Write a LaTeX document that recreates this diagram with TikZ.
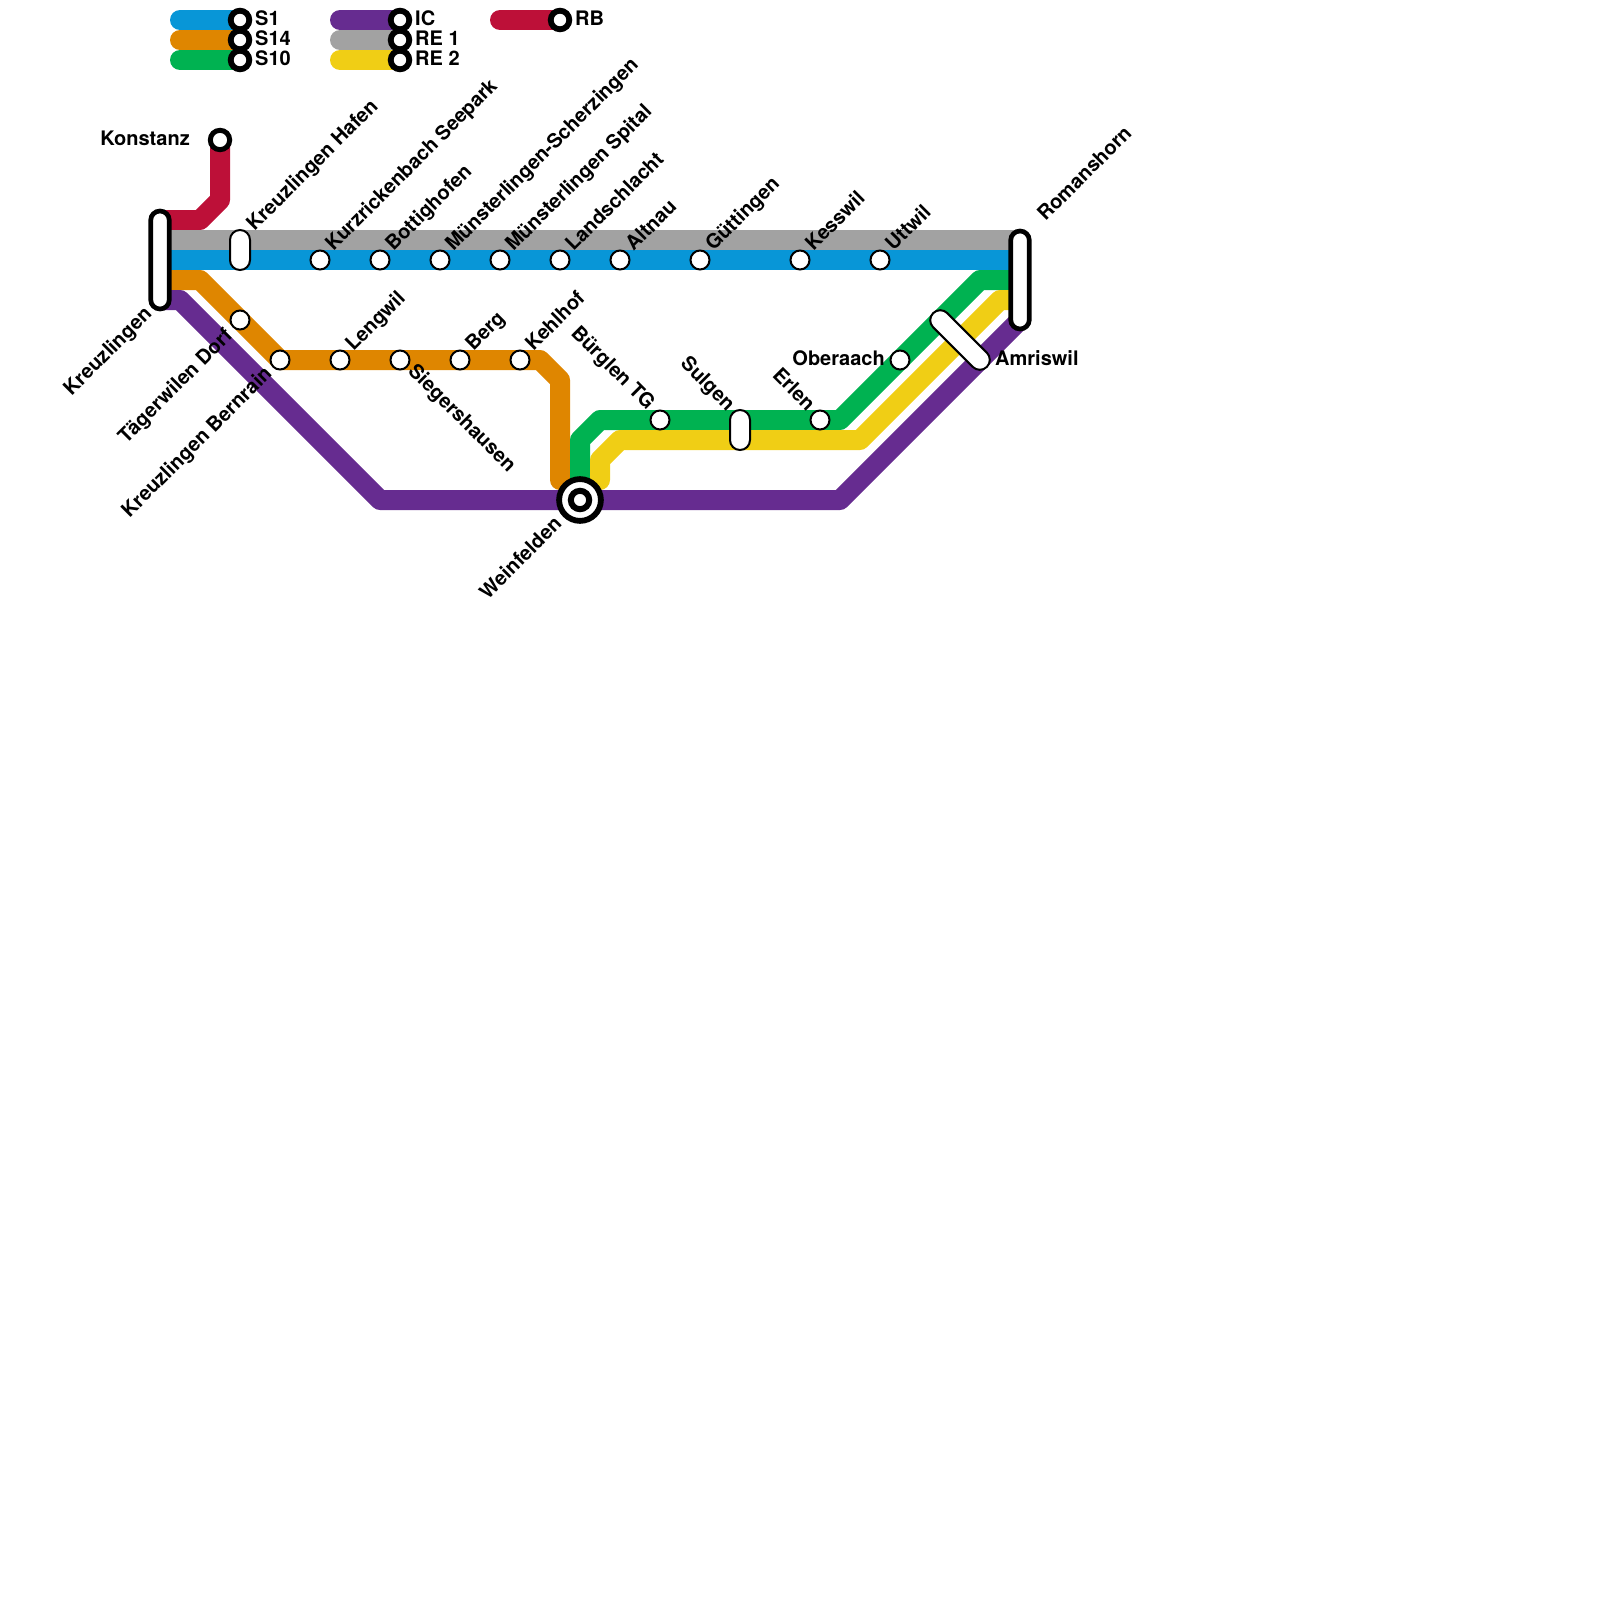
\documentclass[tikz,border=0pt]{standalone}
\usepackage{fontspec}
\setmainfont{TeX Gyre Heros}
\usetikzlibrary{backgrounds,shapes.misc}
\definecolor{cblue}{HTML}{0896D7}
\definecolor{corange}{HTML}{DF8600}
\definecolor{cgreen}{HTML}{00B251}
\definecolor{cgray}{HTML}{A2A2A2}
\definecolor{cyellow}{HTML}{F0CE15}
\definecolor{cpurple}{HTML}{662C90}
\definecolor{cred}{HTML}{BD1038}
\tikzset{
  route/.style={line width=20pt,line cap=round,line join=round},
  legendroute/.style={line width=20pt,line cap=round},
  stop/.style={circle,draw=black,fill=white,line width=2pt,minimum size=19pt,inner sep=0pt},
  term/.style={circle,draw=black,fill=white,line width=5.8pt,minimum size=18.6pt,inner sep=0pt},
  hub/.style={circle,draw=black,fill=white,line width=5pt,minimum size=19.4pt,inner sep=0pt},
  thincap/.style={rounded rectangle,draw=black,fill=white,line width=2pt,minimum height=20pt,inner sep=0pt},
  thickcap/.style={rounded rectangle,draw=black,fill=white,line width=4.7pt,minimum height=18.6pt,inner sep=0pt},
  txt/.style={font=\fontsize{20}{22}\selectfont\bfseries,inner sep=0pt,text=black},
  up/.style={txt,rotate=45,anchor=base west},
  upend/.style={txt,rotate=45,anchor=base east},
  downend/.style={txt,rotate=-45,anchor=base east},
  downstart/.style={txt,rotate=-45,anchor=base west},
  flat/.style={txt,anchor=base west},
  flatend/.style={txt,anchor=base east},
}
\begin{document}
\begin{tikzpicture}[x=1pt,y=-1pt]
\useasboundingbox (0,0) rectangle (1600,1600);
% legend stations
\node[term] (lgS1) at (240,20) {};
\node[term] (lgS14) at (240,40) {};
\node[term] (lgS10) at (240,60) {};
\node[term] (lgIC) at (400,20) {};
\node[term] (lgRE1) at (400,40) {};
\node[term] (lgRE2) at (400,60) {};
\node[term] (lgRB) at (560,20) {};
\coordinate (lsS1) at (180,20);
\coordinate (lsS14) at (180,40);
\coordinate (lsS10) at (180,60);
\coordinate (lsIC) at (340,20);
\coordinate (lsRE1) at (340,40);
\coordinate (lsRE2) at (340,60);
\coordinate (lsRB) at (500,20);
% stations
\node[hub] (konstanz) at (220,140) {};
\node[thickcap,minimum width=98pt,rotate=90] (kreuzlingen) at (160,260) {};
\node[thincap,minimum width=40pt,rotate=90] (hafen) at (240,250) {};
\node[stop] (kurz) at (320,260) {};
\node[stop] (bott) at (380,260) {};
\node[stop] (scher) at (440,260) {};
\node[stop] (spital) at (500,260) {};
\node[stop] (land) at (560,260) {};
\node[stop] (altnau) at (620,260) {};
\node[stop] (guett) at (700,260) {};
\node[stop] (kess) at (800,260) {};
\node[stop] (utt) at (880,260) {};
\node[thickcap,minimum width=98pt,rotate=90] (roman) at (1020,280) {};
\node[stop] (taeg) at (240,320) {};
\node[stop] (bern) at (280,360) {};
\node[stop] (leng) at (340,360) {};
\node[stop] (sieg) at (400,360) {};
\node[stop] (berg) at (460,360) {};
\node[stop] (kehl) at (520,360) {};
\node[stop] (buerg) at (660,420) {};
\node[thincap,minimum width=40pt,rotate=90] (sulgen) at (740,430) {};
\node[stop] (erlen) at (820,420) {};
\node[stop] (ober) at (900,360) {};
\node[thincap,minimum width=76pt,rotate=-45] (amris) at (960,340) {};
\node[circle,draw=black,fill=white,line width=5.8pt,minimum size=41.8pt,inner sep=0pt] (wein) at (580,500) {};
\node[circle,draw=black,fill=white,line width=6pt,minimum size=18.4pt,inner sep=0pt] (weinin) at (580,500) {};
% routes
\begin{scope}[on background layer]
\draw[route,cred] (konstanz.center) -- (220,200) -- (200,220) -- (kreuzlingen.center |- 0,220);
\draw[route,cgray] (kreuzlingen.center |- 0,240) -- (roman.center |- 0,240);
\draw[route,cblue] (kreuzlingen.center) -- (roman.center |- 0,260);
\draw[route,corange] (kreuzlingen.center |- 0,280) -- (200,280) -- (bern.center) -- (540,360) -- (560,380) -- (560,480);
\draw[route,cpurple] (kreuzlingen.center |- 0,300) -- (180,300) -- (380,500) -- (wein.center) -- (840,500) -- (roman.center |- 0,320);
\draw[route,cgreen] (wein.center) -- (580,440) -- (600,420) -- (840,420) -- (980,280) -- (roman.center |- 0,280);
\draw[route,cyellow] (600,480) -- (600,460) -- (620,440) -- (860,440) -- (1000,300) -- (roman.center |- 0,300);
\draw[legendroute,cblue] (lsS1) -- (lgS1.center);
\draw[legendroute,corange] (lsS14) -- (lgS14.center);
\draw[legendroute,cgreen] (lsS10) -- (lgS10.center);
\draw[legendroute,cpurple] (lsIC) -- (lgIC.center);
\draw[legendroute,cgray] (lsRE1) -- (lgRE1.center);
\draw[legendroute,cyellow] (lsRE2) -- (lgRE2.center);
\draw[legendroute,cred] (lsRB) -- (lgRB.center);
\end{scope}
% legend text
\node[flat] (tS1) at (255,26) {S1};
\node[flat] (tS14) at (255,46) {S14};
\node[flat] (tS10) at (255,66) {S10};
\node[flat] (tIC) at (415,26) {IC};
\node[flat] (tRE1) at (415,46) {RE 1};
\node[flat] (tRE2) at (415,66) {RE 2};
\node[flat] (tRB) at (575,26) {RB};
% labels
\node[flatend] (tKon) at (190,146) {Konstanz};
\node[up] (tHaf) at (254.5,232) {Kreuzlingen Hafen};
\node[up] (tKur) at (333.5,252) {Kurzrickenbach Seepark};
\node[up] (tBot) at (393.5,252) {Bottighofen};
\node[up] (tSch) at (453.5,252) {Münsterlingen-Scherzingen};
\node[up] (tSpi) at (513.5,252) {Münsterlingen Spital};
\node[up] (tLan) at (573.5,252) {Landschlacht};
\node[up] (tAlt) at (633.5,252) {Altnau};
\node[up] (tGue) at (713.5,252) {Güttingen};
\node[up] (tKes) at (813.5,252) {Kesswil};
\node[up] (tUtt) at (893.5,252) {Uttwil};
\node[up] (tRom) at (1045.5,222) {Romanshorn};
\node[up] (tLen) at (353.5,352) {Lengwil};
\node[up] (tBer) at (473.5,352) {Berg};
\node[up] (tKeh) at (533.5,352) {Kehlhof};
\node[upend] (tKre) at (153,315) {Kreuzlingen};
\node[upend] (tTae) at (233.5,337) {Tägerwilen Dorf};
\node[upend] (tBrn) at (273,375) {Kreuzlingen Bernrain};
\node[upend] (tWei) at (563,525) {Weinfelden};
\node[downstart] (tSie) at (407,372) {Siegershausen};
\node[downend] (tBue) at (647,411) {Bürglen TG};
\node[downend] (tSul) at (727,412) {Sulgen};
\node[downend] (tErl) at (807,412) {Erlen};
\node[flatend] (tObe) at (885,365) {Oberaach};
\node[flat] (tAmr) at (995,365) {Amriswil};
\end{tikzpicture}
\end{document}
